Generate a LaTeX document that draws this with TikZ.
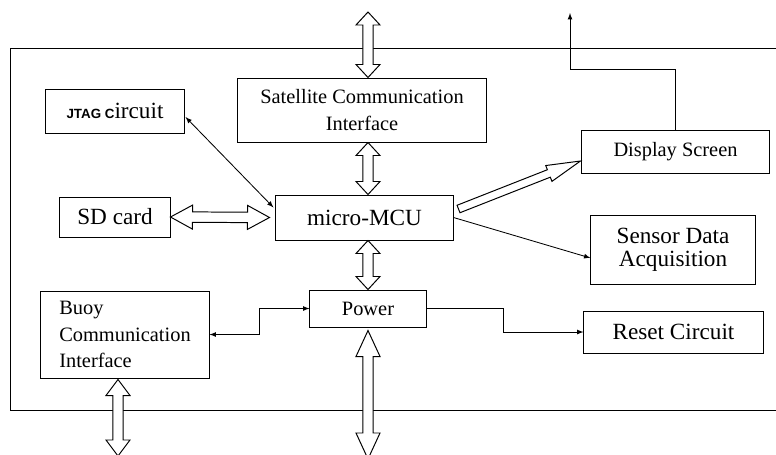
\documentclass[tikz,border=0pt]{standalone}
\usepackage{fontspec}
\setmainfont{Liberation Serif}
\setsansfont{Liberation Sans}
\usetikzlibrary{calc}

\tikzset{>=latex,every node/.style={font=\fontsize{14.5}{18.9}\selectfont},
  block/.style={draw,line width=0.7pt,inner sep=0pt,align=center},
  big/.style={font=\fontsize{16.5}{16.6}\selectfont},
  fathead/.store in=\fathead,fathead=0.325cm,
  fatwidth/.store in=\fatwidth,fatwidth=0.3cm,
  fatshaft/.store in=\fatshaft,fatshaft=0.13cm,
  % hollow arrow, heads at both ends
  fatboth/.style={fill=white,line width=0.7pt,to path={
    -- ($(\tikztostart)!\fathead!(\tikztotarget)!\fatwidth!90:(\tikztotarget)$)
    -- ($(\tikztostart)!\fathead!(\tikztotarget)!\fatshaft!90:(\tikztotarget)$)
    -- ($(\tikztotarget)!\fathead!(\tikztostart)!\fatshaft!-90:(\tikztostart)$)
    -- ($(\tikztotarget)!\fathead!(\tikztostart)!\fatwidth!-90:(\tikztostart)$)
    -- (\tikztotarget)
    -- ($(\tikztotarget)!\fathead!(\tikztostart)!\fatwidth!90:(\tikztostart)$)
    -- ($(\tikztotarget)!\fathead!(\tikztostart)!\fatshaft!90:(\tikztostart)$)
    -- ($(\tikztostart)!\fathead!(\tikztotarget)!\fatshaft!-90:(\tikztotarget)$)
    -- ($(\tikztostart)!\fathead!(\tikztotarget)!\fatwidth!-90:(\tikztotarget)$)
    -- cycle}},
  % hollow arrow, head at the target only
  fatone/.style={fill=white,line width=0.7pt,to path={
    -- ($(\tikztostart)!\fatshaft!90:(\tikztotarget)$)
    -- ($(\tikztotarget)!\fathead!(\tikztostart)!\fatshaft!-90:(\tikztostart)$)
    -- ($(\tikztotarget)!\fathead!(\tikztostart)!\fatwidth!-90:(\tikztostart)$)
    -- (\tikztotarget)
    -- ($(\tikztotarget)!\fathead!(\tikztostart)!\fatwidth!90:(\tikztostart)$)
    -- ($(\tikztotarget)!\fathead!(\tikztostart)!\fatshaft!90:(\tikztostart)$)
    -- ($(\tikztostart)!\fatshaft!-90:(\tikztotarget)$)
    -- cycle}}}

\begin{document}
\begin{tikzpicture}[x=0.025cm,y=-0.025cm]
    \useasboundingbox (0,0) rectangle (776,454);
    \clip (0,0) rectangle (776,454);

    % board outline, open to the right
    \draw[line width=0.7pt] (776,48) -| (10,410) -- (776,410);

    \node[block,minimum width=3.45cm,minimum height=1.1cm] (jtag) at (115,111)
        {{\sffamily\bfseries\fontsize{9.5}{11}\selectfont JTAG C}{\fontsize{16.5}{18}\selectfont ircuit}};
    \node[block,minimum width=6.2cm,minimum height=1.6cm] (sat) at (362,110) {Satellite Communication\\Interface};
    \node[block,minimum width=4.675cm,minimum height=1.075cm] (disp) at (675.5,151.5) {Display Screen};
    \node[block,big,minimum width=2.75cm,minimum height=1cm] (sd) at (115,217) {SD card};
    \node[block,big,minimum width=4.425cm,minimum height=1.125cm] (mcu) at (364.5,217.5) {micro-MCU};
    \node[block,big,minimum width=4.1cm,minimum height=1.725cm] (sensor) at (673,249.5) {Sensor Data\\Acquisition};
    \node[block,minimum width=2.9cm,minimum height=0.925cm] (power) at (368,308.5) {Power};
    \node[block,align=left,minimum width=4.2cm,minimum height=2.175cm] (buoy) at (125,334.5) {Buoy\\Communication\\Interface};
    \node[block,big,minimum width=4.475cm,minimum height=1.05cm] (reset) at (673.5,332) {Reset Circuit};

    \coordinate (satlink) at (368,12);
    \coordinate (dispout) at (570,13);
    \coordinate (powerlink) at (368,459);
    \coordinate (buoylink) at (118,456);

    % wide links
    \draw[fatboth] (satlink) to (sat.north -| power);
    \draw[fatboth] (sat.south -| power) to (mcu.north -| power);
    \draw[fatboth] (mcu.south -| power) to (power.north);
    \draw[fatboth,fathead=0.65cm] ($(power.south)+(0,3)$) to (powerlink);
    \draw[fatboth,fathead=0.4cm] ($(buoy.south)+(-7,1)$) to (buoylink);
    \draw[fatboth,fathead=0.55cm] (sd.east) to ($(mcu.west)+(-6,0)$);
    \draw[fatone,fathead=0.85cm,fatwidth=0.2125cm,fatshaft=0.1cm] ($(mcu.east)+(5,-8.5)$) to ($(disp.west)+(-1,9.5)$);

    % thin links
    \draw[<->,line width=0.6pt] ($(jtag.east)+(1,6)$) -- ($(mcu.west)+(-2,-10)$);
    \draw[->,line width=0.6pt] (mcu.east) -- ($(sensor.west)+(0,8.5)$);
    \draw[<->,line width=0.6pt] (buoy.east) -- ++(50,0) |- (power.west);
    \draw[->,line width=0.6pt] (power.east) -- ++(77,0) |- (reset.west);
    \draw[->,line width=0.6pt] (disp.north) -- ++(0,-60) -| (dispout);
\end{tikzpicture}
\end{document}
